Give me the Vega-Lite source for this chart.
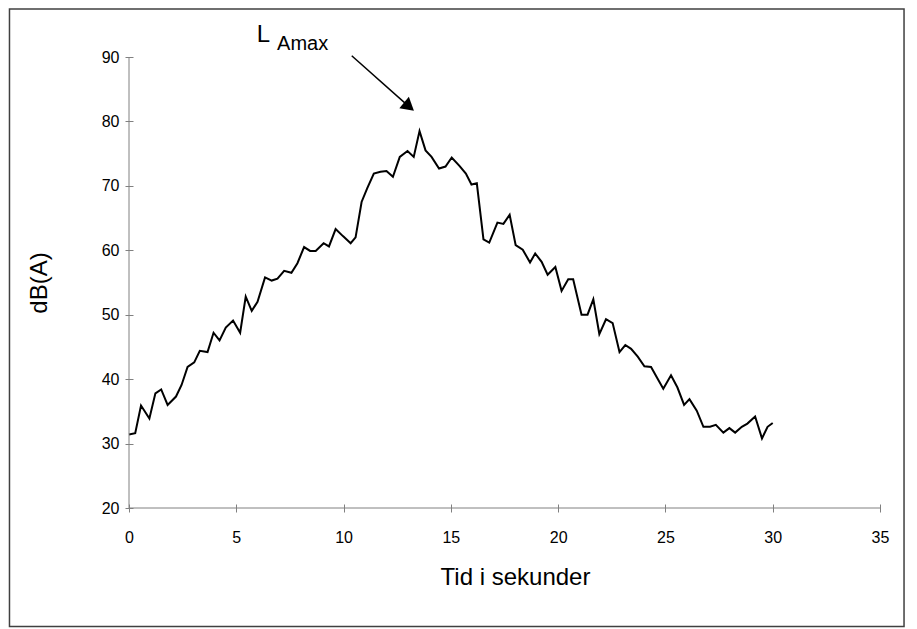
{
  "$schema": "https://vega.github.io/schema/vega-lite/v6.json",
  "width": 751,
  "height": 451,
  "autosize": "none",
  "padding": {"left": 129, "top": 57, "right": 37, "bottom": 121},
  "background": "white",
  "config": {
    "view": {"stroke": null},
    "font": "Liberation Sans",
    "axis": {"grid": false, "domain": false, "tickColor": "#808080", "tickSize": 8, "offset": -4, "labelFlush": false, "labelColor": "black", "labelFontSize": 16, "labelFont": "Liberation Sans", "titleFont": "Liberation Sans", "titleFontWeight": "normal", "titleFontSize": 24, "titleColor": "black"}
  },
  "datasets": {
    "level": [
      {"t": 0.0, "db": 31.4}, {"t": 0.29, "db": 31.6}, {"t": 0.56, "db": 35.9}, {"t": 0.95, "db": 33.9},
      {"t": 1.23, "db": 37.8}, {"t": 1.5, "db": 38.4}, {"t": 1.8, "db": 36.0}, {"t": 2.19, "db": 37.3},
      {"t": 2.45, "db": 39.1}, {"t": 2.73, "db": 41.9}, {"t": 3.04, "db": 42.6}, {"t": 3.3, "db": 44.4},
      {"t": 3.66, "db": 44.2}, {"t": 3.94, "db": 47.2}, {"t": 4.22, "db": 46.0}, {"t": 4.51, "db": 48.0},
      {"t": 4.85, "db": 49.1}, {"t": 5.18, "db": 47.2}, {"t": 5.44, "db": 52.8}, {"t": 5.72, "db": 50.6},
      {"t": 5.99, "db": 52.0}, {"t": 6.34, "db": 55.8}, {"t": 6.65, "db": 55.3}, {"t": 6.92, "db": 55.6},
      {"t": 7.23, "db": 56.8}, {"t": 7.57, "db": 56.5}, {"t": 7.85, "db": 58.0}, {"t": 8.16, "db": 60.5},
      {"t": 8.44, "db": 59.9}, {"t": 8.7, "db": 59.9}, {"t": 9.07, "db": 61.1}, {"t": 9.32, "db": 60.6},
      {"t": 9.63, "db": 63.3}, {"t": 9.97, "db": 62.2}, {"t": 10.33, "db": 61.1}, {"t": 10.56, "db": 62.0},
      {"t": 10.84, "db": 67.5}, {"t": 11.1, "db": 69.6}, {"t": 11.41, "db": 71.9}, {"t": 11.72, "db": 72.2},
      {"t": 12.0, "db": 72.3}, {"t": 12.3, "db": 71.4}, {"t": 12.62, "db": 74.5}, {"t": 12.98, "db": 75.4},
      {"t": 13.27, "db": 74.5}, {"t": 13.54, "db": 78.5}, {"t": 13.82, "db": 75.5}, {"t": 14.1, "db": 74.5},
      {"t": 14.45, "db": 72.7}, {"t": 14.75, "db": 73.0}, {"t": 15.04, "db": 74.4}, {"t": 15.4, "db": 73.1},
      {"t": 15.7, "db": 71.9}, {"t": 15.96, "db": 70.2}, {"t": 16.21, "db": 70.4}, {"t": 16.52, "db": 61.7},
      {"t": 16.79, "db": 61.2}, {"t": 17.17, "db": 64.3}, {"t": 17.45, "db": 64.1}, {"t": 17.74, "db": 65.5},
      {"t": 18.02, "db": 60.8}, {"t": 18.35, "db": 60.1}, {"t": 18.69, "db": 58.1}, {"t": 18.93, "db": 59.5},
      {"t": 19.23, "db": 58.2}, {"t": 19.51, "db": 56.2}, {"t": 19.87, "db": 57.4}, {"t": 20.16, "db": 53.7},
      {"t": 20.47, "db": 55.5}, {"t": 20.7, "db": 55.5}, {"t": 21.09, "db": 50.0}, {"t": 21.37, "db": 50.0},
      {"t": 21.64, "db": 52.4}, {"t": 21.92, "db": 47.0}, {"t": 22.23, "db": 49.3}, {"t": 22.54, "db": 48.7},
      {"t": 22.86, "db": 44.2}, {"t": 23.13, "db": 45.3}, {"t": 23.4, "db": 44.7}, {"t": 23.71, "db": 43.5},
      {"t": 24.02, "db": 42.0}, {"t": 24.33, "db": 41.9}, {"t": 24.63, "db": 40.1}, {"t": 24.9, "db": 38.5},
      {"t": 25.26, "db": 40.6}, {"t": 25.56, "db": 38.7}, {"t": 25.87, "db": 36.0}, {"t": 26.12, "db": 36.9},
      {"t": 26.46, "db": 35.1}, {"t": 26.77, "db": 32.6}, {"t": 27.08, "db": 32.6}, {"t": 27.35, "db": 32.9},
      {"t": 27.7, "db": 31.7}, {"t": 27.98, "db": 32.4}, {"t": 28.25, "db": 31.7}, {"t": 28.56, "db": 32.6},
      {"t": 28.82, "db": 33.1}, {"t": 29.18, "db": 34.2}, {"t": 29.5, "db": 30.8}, {"t": 29.76, "db": 32.6},
      {"t": 30.0, "db": 33.2}
    ],
    "frame": [{"x0": -5.57, "x1": 36.12, "y0": 1.6, "y1": 97.45}],
    "arrow": [{"x0": 10.38, "y0": 90.2, "x1": 13.05, "y1": 82.3}]
  },
  "layer": [
    {
      "data": {"name": "frame"},
      "mark": {"type": "rect", "fill": null, "stroke": "#404040", "strokeWidth": 1.5, "clip": false},
      "encoding": {
        "x": {"field": "x0", "type": "quantitative"},
        "x2": {"field": "x1"},
        "y": {"field": "y0", "type": "quantitative"},
        "y2": {"field": "y1"}
      }
    },
    {
      "data": {"name": "level"},
      "mark": {"type": "line", "color": "black", "strokeWidth": 2},
      "encoding": {
        "x": {"field": "t", "type": "quantitative", "scale": {"domain": [0, 35], "nice": false},
              "axis": {"values": [0, 5, 10, 15, 20, 25, 30, 35], "labelPadding": 17, "title": "Tid i sekunder", "titlePadding": 20, "titleX": 386}},
        "y": {"field": "db", "type": "quantitative", "scale": {"domain": [20, 90], "nice": false, "zero": false},
              "axis": {"values": [20, 30, 40, 50, 60, 70, 80, 90], "labelPadding": 6, "title": "dB(A)", "titlePadding": 50}}
      }
    },
    {
      "data": {"values": [{}]},
      "mark": {"type": "rule", "color": "#808080", "strokeWidth": 1},
      "encoding": {"y": {"datum": 20}}
    },
    {
      "data": {"values": [{}]},
      "mark": {"type": "rule", "color": "#808080", "strokeWidth": 1},
      "encoding": {"x": {"datum": 0}}
    },
    {
      "data": {"name": "arrow"},
      "mark": {"type": "rule", "color": "black", "strokeWidth": 1.5, "clip": false},
      "encoding": {
        "x": {"field": "x0", "type": "quantitative"},
        "y": {"field": "y0", "type": "quantitative"},
        "x2": {"field": "x1"},
        "y2": {"field": "y1"}
      }
    },
    {
      "data": {"name": "arrow"},
      "mark": {"type": "point", "shape": "triangle-up", "filled": true, "color": "black", "opacity": 1, "size": 220, "angle": 130, "clip": false},
      "encoding": {
        "x": {"field": "x1", "type": "quantitative"},
        "y": {"field": "y1", "type": "quantitative"}
      }
    },
    {
      "data": {"values": [{"x": 5.95, "y": 92.3, "label": "L"}]},
      "mark": {"type": "text", "fontSize": 24, "align": "left", "baseline": "alphabetic", "color": "black", "font": "Liberation Sans"},
      "encoding": {
        "x": {"field": "x", "type": "quantitative"},
        "y": {"field": "y", "type": "quantitative"},
        "text": {"field": "label"}
      }
    },
    {
      "data": {"values": [{"x": 6.9, "y": 91.1, "label": "Amax"}]},
      "mark": {"type": "text", "fontSize": 20, "align": "left", "baseline": "alphabetic", "color": "black", "font": "Liberation Sans"},
      "encoding": {
        "x": {"field": "x", "type": "quantitative"},
        "y": {"field": "y", "type": "quantitative"},
        "text": {"field": "label"}
      }
    }
  ]
}
